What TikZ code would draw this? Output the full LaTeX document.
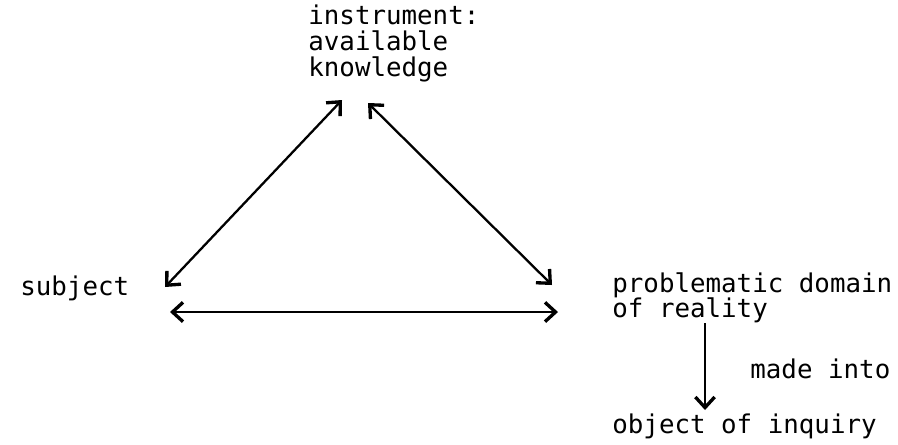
\documentclass[tikz,border=0pt]{standalone}
\usepackage{fontspec}
\setmonofont{DejaVu Sans Mono}
\usetikzlibrary{arrows.meta}

\begin{document}
\begin{tikzpicture}[x=0.02cm,y=-0.02cm,
  lbl/.style={font=\ttfamily\fontsize{14.7}{14.7}\selectfont,
              inner sep=0pt,align=left},
  link/.style={line width=1.3pt,
               {Straight Barb[length=6pt,width=11pt,line width=1.9pt]}-{Straight Barb[length=6pt,width=11pt,line width=1.9pt]}},
  oneway/.style={line width=1.3pt,
               -{Straight Barb[length=6pt,width=11pt,line width=1.9pt]}},
]
\useasboundingbox (0,0) rectangle (898,444);
\node[lbl,anchor=north west] (instr) at (308,5) {instrument:\\available\\knowledge};
\node[lbl,anchor=base west] (subj) at (20,295) {subject};
\node[lbl,anchor=north west] (prob) at (612,272) {problematic domain\\of reality};
\node[lbl,anchor=base west] (made) at (750,378) {made into};
\node[lbl,anchor=base west] (obj) at (612,433) {object of inquiry};
\coordinate (subjend) at (165,287);
\coordinate (instrleft) at (342,100);
\coordinate (instrright) at (368,103);
\coordinate (probend) at (552,285);
\coordinate (subjline) at (170,312);
\coordinate (probline) at (558,312);
\coordinate (probdown) at (705,323);
\coordinate (objup) at (705,410);
\draw[link] (subjend) -- (instrleft);
\draw[link] (instrright) -- (probend);
\draw[link] (subjline) -- (probline);
\draw[oneway] (probdown) -- (objup);
\end{tikzpicture}
\end{document}
